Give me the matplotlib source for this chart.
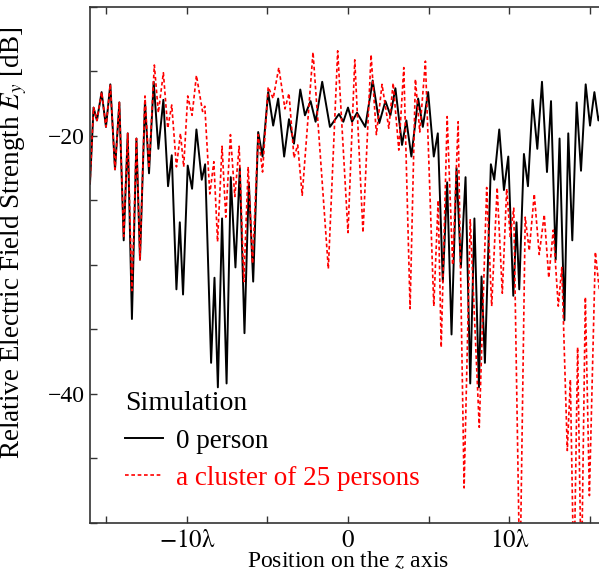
import matplotlib
matplotlib.use("Agg")
import matplotlib.pyplot as plt
from matplotlib.ticker import MultipleLocator, FixedLocator

plt.rcParams["font.family"] = ["Liberation Serif", "DejaVu Serif"]
plt.rcParams["mathtext.fontset"] = "stix"

# position along z (in wavelengths) and relative field strength (dB)
z_0 = [-16.0, -15.78, -15.57, -15.28, -15.01, -14.74, -14.45, -14.18, -13.91, -13.66,
       -13.40, -13.12, -12.90, -12.59, -12.34, -12.05, -11.76, -11.45, -11.16, -10.93,
       -10.64, -10.43, -10.23, -9.94, -9.67, -9.40, -9.07, -8.86, -8.49, -8.28,
       -8.07, -7.81, -7.53, -7.27, -6.98, -6.71, -6.42, -6.15, -5.88, -5.57,
       -5.30, -4.95, -4.64, -4.33, -3.96, -3.66, -3.35, -2.96, -2.67, -2.32,
       -2.01, -1.60, -1.12, -0.56, -0.29, 0.0, 0.25, 0.56, 1.07, 1.53,
       1.94, 2.32, 2.63, 2.94, 3.35, 3.62, 3.93, 4.35, 4.64, 4.97,
       5.32, 5.57, 5.88, 6.15, 6.42, 6.73, 7.00, 7.29, 7.58, 7.84,
       8.12, 8.28, 8.49, 8.86, 9.07, 9.38, 9.67, 9.94, 10.25, 10.45,
       10.62, 10.91, 11.16, 11.45, 11.74, 12.03, 12.34, 12.59, 12.88, 13.12,
       13.42, 13.66, 13.91, 14.18, 14.45, 14.74, 15.01, 15.28, 15.53, 15.78,
       16.0]
e_0 = [-23.7, -17.8, -18.8, -16.6, -19.3, -16.0, -22.6, -17.4, -28.1, -19.8,
       -34.2, -20.2, -29.6, -17.3, -22.9, -15.8, -21.0, -17.2, -23.9, -21.5,
       -31.9, -26.7, -32.3, -22.3, -24.1, -19.5, -23.4, -22.2, -37.6, -31.0,
       -39.5, -26.4, -39.2, -23.2, -30.2, -22.5, -35.3, -23.6, -31.3, -19.7,
       -21.6, -16.6, -19.2, -17.1, -21.6, -18.7, -20.6, -16.4, -18.4, -17.3,
       -18.9, -15.8, -19.3, -18.3, -18.9, -17.8, -18.9, -18.2, -19.3, -15.7,
       -19.0, -17.3, -18.4, -16.3, -20.7, -18.8, -21.6, -17.1, -19.3, -16.6,
       -21.6, -19.8, -31.3, -23.6, -35.4, -22.5, -30.2, -23.2, -39.2, -26.4,
       -39.5, -30.9, -37.6, -22.2, -23.4, -19.5, -24.2, -21.6, -32.4, -26.7,
       -31.9, -21.4, -23.9, -17.2, -21.0, -15.8, -22.8, -17.3, -29.6, -20.2,
       -34.3, -19.8, -28.1, -17.4, -22.7, -16.0, -19.2, -16.6, -18.8, -17.8,
       -23.7]

z_25 = [-16.0, -15.78, -15.57, -15.28, -15.01, -14.74, -14.45, -14.18, -13.91, -13.66,
        -13.40, -13.12, -12.90, -12.59, -12.34, -12.01, -11.76, -11.45, -11.18, -10.93,
        -10.64, -10.39, -10.19, -9.94, -9.67, -9.40, -9.02, -8.88, -8.57, -8.32,
        -8.09, -7.81, -7.58, -7.29, -7.02, -6.75, -6.46, -6.19, -5.92, -5.57,
        -5.30, -4.95, -4.64, -4.29, -3.91, -3.66, -3.35, -3.12, -2.84, -2.17,
        -1.22, -0.64, 0.0, 0.42, 0.93, 1.43, 1.76, 2.11, 2.53, 2.80,
        3.15, 3.46, 3.85, 4.18, 4.45, 4.80, 5.32, 5.59, 5.78, 6.15,
        6.49, 6.83, 7.20, 7.58, 8.14, 8.60, 8.91, 9.25, 9.57, 9.84,
        10.06, 10.28, 10.66, 10.99, 11.24, 11.55, 11.86, 12.17, 12.45, 12.73,
        13.04, 13.26, 13.60, 13.79, 14.01, 14.24, 14.47, 14.72, 14.97, 15.34,
        15.59, 16.0]
e_25 = [-23.7, -17.8, -18.8, -16.6, -19.3, -16.0, -22.6, -17.4, -27.8, -19.8,
        -32.0, -20.2, -29.6, -16.9, -22.5, -14.5, -18.2, -15.1, -19.4, -17.6,
        -22.4, -19.8, -22.4, -16.9, -18.4, -15.3, -18.1, -17.7, -24.5, -22.0,
        -28.2, -20.8, -26.3, -19.9, -24.7, -20.8, -31.3, -22.4, -29.9, -19.9,
        -22.8, -16.2, -17.1, -14.7, -17.9, -16.7, -21.7, -20.7, -24.6, -13.5,
        -30.3, -13.4, -27.5, -14.1, -27.5, -13.7, -19.9, -16.0, -19.4, -15.9,
        -21.1, -14.7, -33.4, -15.6, -19.7, -14.2, -33.2, -25.0, -36.4, -18.5,
        -30.0, -18.9, -47.3, -26.5, -42.6, -24.0, -33.2, -24.0, -32.2, -24.1,
        -27.8, -25.6, -55.0, -26.3, -28.9, -24.5, -29.2, -26.1, -31.0, -27.3,
        -33.2, -30.2, -44.4, -38.9, -55.0, -36.4, -55.0, -32.5, -47.9, -29.0,
        -32.0, -30.0]

x_ticks = [-10, 0, 10]
x_labels = [r"$-10\mathrm{\lambda}$", r"$0$", r"$10\mathrm{\lambda}$"]
y_ticks = [-20, -40]

fig = plt.figure(figsize=(5.99, 5.74), dpi=100)
ax = fig.add_axes([90 / 599, 51.3 / 574, 516 / 599, 515.7 / 574])

ax.plot(z_0, e_0, color="black", lw=1.4, label="0 person")
ax.plot(z_25, e_25, color="red", lw=1.2, linestyle=(0, (2.2, 1.6)),
        label="a cluster of 25 persons")

ax.set_xlim(-16, 16)
ax.set_ylim(-50, -10)

ax.xaxis.set_major_locator(FixedLocator(x_ticks))
ax.set_xticklabels(x_labels)
ax.xaxis.set_minor_locator(MultipleLocator(5))
ax.yaxis.set_major_locator(FixedLocator(y_ticks))
ax.yaxis.set_minor_locator(MultipleLocator(5))
ax.tick_params(which="both", direction="in", top=True, right=True,
               length=5, width=1.0, color="#333333")
ax.tick_params(axis="x", labelsize=18, pad=5)
ax.tick_params(axis="y", labelsize=17, pad=4)
for s in ax.spines.values():
    s.set_linewidth(1.2)
    s.set_color("#333333")

ax.set_xlabel(r"Position on the $z$ axis", fontsize=17, labelpad=-1)
ax.set_ylabel(r"Relative Electric Field Strength $E_y$ [dB]", fontsize=19.5)
ax.yaxis.set_label_coords(-0.118, 0.542)

leg = ax.legend(loc="lower left", bbox_to_anchor=(0.031, 0.025), frameon=False,
                title="Simulation", title_fontsize=20, fontsize=19.5,
                handlelength=1.4, handletextpad=0.5, labelspacing=0.45,
                alignment="left", borderpad=0.2)
for txt, ln in zip(leg.get_texts(), leg.get_lines()):
    txt.set_color(ln.get_color())

fig.savefig("out.png", dpi=100)
